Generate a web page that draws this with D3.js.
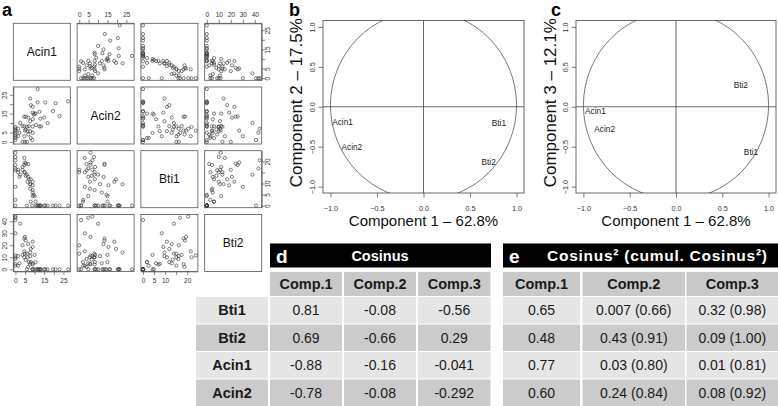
<!DOCTYPE html>
<html><head><meta charset="utf-8">
<script src="https://cdn.jsdelivr.net/npm/d3@7"></script>
<style>
body{margin:0;background:#fff;}
svg{display:block;font-family:"Liberation Sans",Arial,Helvetica,sans-serif;}
</style>
</head><body>
<svg id="fig" width="778" height="406"></svg>
<script>
// ---------------- DATA ----------------
const varNames = ["Acin1", "Acin2", "Bti1", "Bti2"];
const acin1 = [11.6,27.5,11.6,15.6,20.9,19.6,23,15,13,12.5,13.3,0,0,0,0,0,0,0,0,7.7,8,9,9,10,9.5,10.5,12.5,4.6,5.4,6.7,7.7,9,2.5,3.7,4.6,6,7,9,1.4,2.1,1.4,5.4,6.3,7.7,9,4.6,6.7,3.7,4.9,6,8,10.7,0,16.8,8.8,5];
const acin2 = [28,21.5,21,20.9,20.5,16.4,13.6,12.9,12.3,8.2,8.2,7.9,7,6,4.8,3.9,3,2.1,1,23,19.5,18.6,15.5,15,14.5,15,16,13.4,13.4,12.9,11,12,10,8.4,8.2,8,8.3,8.2,7,4.8,3,6.6,5.7,5.7,4.8,3,3.9,0,0,0,2,9,6,10,1,6];
const bti1  = [0,0,0,0,0,0,0,0,0,0,0,22,20.5,18.4,16.8,16,8.5,2.6,0,9.7,11.9,10.8,9.2,4.3,4.9,1.8,0,18.4,19,13,9.7,5.9,14,17.5,15.1,14,11.9,7,16.2,13,15.1,13.5,10.8,7.6,4.3,21.6,18.8,16.2,15.1,0,1.8,0,23.9,0,0,19.5];
const bti2  = [0,0,0,0,0,0,0,0,0,0,0,10,44,4.3,43,8.6,30,2.9,41,14,17,23,18.6,12,0,6,0,25.7,24,21,11,5,38,12,10,13,6,4,11,5,3,8,10,4.5,0,15,2,20,13,0,6,0,11.5,0,0,27];

// axis ticks of panel a (tick values and the labels R printed)
const acin1Ticks = [0,5,10,15,20,25];
const acin1Labels = ["0","5","","15","","25"];
const acin2Ticks = [0,5,10,15,20,25];
const acin2Labels = ["0","5","","15","","25"];
const bti1Ticks = [0,5,10,15,20];
const bti1Labels = ["0","5","10","","20"];
const bti2Ticks = [0,10,20,30,40];
const bti2Labels = ["0","10","20","30","40"];

const circleVars = ["Acin1", "Acin2", "Bti1", "Bti2"];
const comp1Coord = [-0.87, -0.77, 0.81, 0.70];
const comp2Coord = [-0.19, -0.50, -0.21, -0.69];
const comp3Coord = [-0.06, -0.28, -0.57, 0.27];
const circleTicks = [-1.0, -0.5, 0.0, 0.5, 1.0];
const comp1Title = "Component 1 \u2013 62.8%";
const comp2Title = "Component 2 \u2013 17.5%";
const comp3Title = "Component 3 \u2013 12.1%";

// tables d and e
const tableRows = ["Bti1", "Bti2", "Acin1", "Acin2"];
const tableCols = ["Comp.1", "Comp.2", "Comp.3"];
const cosComp1 = ["0.81", "0.69", "-0.88", "-0.78"];
const cosComp2 = ["-0.08", "-0.66", "-0.16", "-0.08"];
const cosComp3 = ["-0.56", "0.29", "-0.041", "-0.292"];
const cos2Comp1 = ["0.65", "0.48", "0.77", "0.60"];
const cos2Comp2 = ["0.007 (0.66)", "0.43 (0.91)", "0.03 (0.80)", "0.24 (0.84)"];
const cos2Comp3 = ["0.32 (0.98)", "0.09 (1.00)", "0.01 (0.81)", "0.08 (0.92)"];
const tableDTitle = "Cosinus";
const tableETitle = "Cosinus\u00B2 (cumul. Cosinus\u00B2)";

// ---------------- DRAW ----------------
const svg = d3.select("#fig");
const INK = "#333";

// ===== Panel a: scatter-plot matrix =====
(function () {
  const vars = [acin1, acin2, bti1, bti2];
  const ticks = [acin1Ticks, acin2Ticks, bti1Ticks, bti2Ticks];
  const labels = [acin1Labels, acin2Labels, bti1Labels, bti2Labels];
  const left = 13.3, top = 23.3, size = 57, stepX = 63.8, stepY = 63.7;
  const n = vars.length;
  const doms = vars.map(v => {
    const e = d3.extent(v); const p = (e[1] - e[0]) * 0.04;
    return [e[0] - p, e[1] + p];
  });
  const xs = doms.map((d, j) => d3.scaleLinear().domain(d).range([left + j * stepX, left + j * stepX + size]));
  const ys = doms.map((d, i) => d3.scaleLinear().domain(d).range([top + i * stepY + size, top + i * stepY]));
  const g = svg.append("g");
  g.append("text").attr("x", 2).attr("y", 15.5).attr("font-size", 18).attr("font-weight", "bold").attr("fill", "#000").text("a");

  for (let i = 0; i < n; i++) {
    for (let j = 0; j < n; j++) {
      const x0 = left + j * stepX, y0 = top + i * stepY;
      g.append("rect").attr("x", x0).attr("y", y0).attr("width", size).attr("height", size)
        .attr("fill", "none").attr("stroke", "#555").attr("stroke-width", 0.8);
      if (i === j) {
        g.append("text").attr("x", x0 + size / 2).attr("y", y0 + size / 2).attr("dy", "0.35em")
          .attr("text-anchor", "middle").attr("font-size", 12).attr("fill", "#111").text(varNames[i]);
      } else {
        const xv = vars[j], yv = vars[i];
        g.append("g").selectAll("circle").data(d3.range(xv.length)).join("circle")
          .attr("cx", k => xs[j](xv[k])).attr("cy", k => ys[i](yv[k])).attr("r", 1.6)
          .attr("fill", "none").attr("stroke", "#3a3a3a").attr("stroke-width", 0.65);
      }
    }
  }
  function fmt(idx) { return (d, k) => labels[idx][k]; }
  function styleAxis(sel) {
    sel.selectAll("path.domain").attr("stroke", "#555").attr("stroke-width", 0.7);
    sel.selectAll(".tick line").attr("stroke", "#555").attr("stroke-width", 0.7);
    sel.selectAll("text").attr("font-size", 6.5).attr("fill", INK).attr("font-family", "Liberation Sans, Arial, sans-serif");
  }
  for (let j = 0; j < n; j++) {
    if (j % 2 === 1) {
      const ax = g.append("g").attr("transform", `translate(0,${top})`)
        .call(d3.axisTop(xs[j]).tickValues(ticks[j]).tickFormat(fmt(j)).tickSize(3.5).tickPadding(2.5).tickSizeOuter(0));
      styleAxis(ax);
    } else {
      const ax = g.append("g").attr("transform", `translate(0,${top + (n - 1) * stepY + size})`)
        .call(d3.axisBottom(xs[j]).tickValues(ticks[j]).tickFormat(fmt(j)).tickSize(3.5).tickPadding(3.5).tickSizeOuter(0));
      styleAxis(ax);
    }
  }
  for (let i = 0; i < n; i++) {
    if (i % 2 === 1) {
      const ax = g.append("g").attr("transform", `translate(${left},0)`)
        .call(d3.axisLeft(ys[i]).tickValues(ticks[i]).tickFormat(fmt(i)).tickSize(3.5).tickSizeOuter(0));
      styleAxis(ax);
      ax.selectAll("text").attr("x", 0).attr("dy", 0).attr("text-anchor", "middle")
        .attr("transform", "translate(-6.6,0) rotate(-90)");
    } else {
      const ax = g.append("g").attr("transform", `translate(${left + (n - 1) * stepX + size},0)`)
        .call(d3.axisRight(ys[i]).tickValues(ticks[i]).tickFormat(fmt(i)).tickSize(3.5).tickSizeOuter(0));
      styleAxis(ax);
      ax.selectAll("text").attr("x", 0).attr("dy", 0).attr("text-anchor", "middle")
        .attr("transform", "translate(8.2,0) rotate(-90)");
    }
  }
})();

// ===== Panels b and c: correlation circles =====
function circlePlot(opt) {
  const g = svg.append("g");
  const x = d3.scaleLinear().domain([-1.08, 1.08]).range([opt.x0, opt.x1]);
  const y = d3.scaleLinear().domain([-1.08, 1.08]).range([opt.y1, opt.y0]);
  const clipId = "clip" + opt.letter;
  g.append("clipPath").attr("id", clipId).append("rect")
    .attr("x", opt.x0).attr("y", opt.y0).attr("width", opt.x1 - opt.x0).attr("height", opt.y1 - opt.y0);
  const r = x(1) - x(0);
  g.append("ellipse").attr("clip-path", `url(#${clipId})`)
    .attr("cx", x(0)).attr("cy", y(0) - 1.5).attr("rx", r).attr("ry", r + 1.5)
    .attr("fill", "none").attr("stroke", "#555").attr("stroke-width", 0.8);
  g.append("line").attr("x1", opt.x0).attr("x2", opt.x1).attr("y1", y(0)).attr("y2", y(0)).attr("stroke", "#444").attr("stroke-width", 0.8);
  g.append("line").attr("x1", x(0)).attr("x2", x(0)).attr("y1", opt.y0).attr("y2", opt.y1).attr("stroke", "#444").attr("stroke-width", 0.8);
  g.append("rect").attr("x", opt.x0).attr("y", opt.y0).attr("width", opt.x1 - opt.x0).attr("height", opt.y1 - opt.y0)
    .attr("fill", "none").attr("stroke", "#444").attr("stroke-width", 0.8);

  const f = d3.format(".1f");
  const ax = g.append("g").attr("transform", `translate(0,${opt.y1})`)
    .call(d3.axisBottom(x).tickValues(circleTicks).tickFormat(f).tickSize(4.5).tickPadding(8).tickSizeOuter(0));
  const ay = g.append("g").attr("transform", `translate(${opt.x0},0)`)
    .call(d3.axisLeft(y).tickValues(circleTicks).tickFormat(f).tickSize(4.5).tickSizeOuter(0));
  [ax, ay].forEach(a => {
    a.selectAll("path.domain").remove();
    a.selectAll(".tick line").attr("stroke", "#444").attr("stroke-width", 0.7);
    a.selectAll("text").attr("font-size", 7.2).attr("fill", INK).attr("font-family", "Liberation Sans, Arial, sans-serif");
  });
  ay.selectAll("text").attr("x", 0).attr("dy", 0).attr("text-anchor", "middle")
    .attr("transform", "translate(-8.5,0) rotate(-90)");

  g.append("g").selectAll("text").data(circleVars).join("text")
    .attr("x", (d, k) => x(opt.xv[k])).attr("y", (d, k) => y(opt.yv[k])).attr("dy", "0.35em")
    .attr("text-anchor", "middle").attr("font-size", 8.3).attr("fill", "#222").text(d => d);

  g.append("text").attr("x", (opt.x0 + opt.x1) / 2).attr("y", 226).attr("text-anchor", "middle")
    .attr("font-size", 15).attr("fill", "#111").text(opt.xTitle);
  g.append("text").attr("transform", `translate(${opt.yTitleX},${(opt.y0 + opt.y1) / 2 - 4}) rotate(-90)`)
    .attr("text-anchor", "middle").attr("font-size", 17).attr("fill", "#111").text(opt.yTitle);
  g.append("text").attr("x", opt.letterX).attr("y", 16).attr("font-size", 18).attr("font-weight", "bold")
    .attr("fill", "#000").text(opt.letter);
}
circlePlot({ letter: "b", letterX: 289, x0: 323, x1: 524, y0: 20.5, y1: 193, xv: comp1Coord, yv: comp2Coord,
  xTitle: comp1Title, yTitle: comp2Title, yTitleX: 302 });
circlePlot({ letter: "c", letterX: 551, x0: 576, x1: 776, y0: 20.5, y1: 193, xv: comp1Coord, yv: comp3Coord,
  xTitle: comp1Title, yTitle: comp3Title, yTitleX: 556 });

// ===== Tables d and e =====
const LIGHT = "#e5e5e5", DARK = "#cbcbcb", HEAD = "#c9c9c9";
const rowY = d3.scaleBand().domain(tableRows).range([297, 406]).paddingInner(0.04);
const headY = 272, headH = 24;

function table(opt) {
  const g = svg.append("g");
  g.append("rect").attr("x", opt.x0).attr("y", 243.5).attr("width", opt.x1 - opt.x0).attr("height", 24).attr("fill", "#000");
  g.append("text").attr("x", opt.x0 + 6).attr("y", 263).attr("font-size", 19).attr("font-weight", "bold").attr("fill", "#fff").text(opt.letter);
  const t = g.append("text").attr("x", opt.titleX).attr("y", 261).attr("text-anchor", "middle").attr("font-size", opt.titleSize)
    .attr("font-weight", "bold").attr("fill", "#fff").text(opt.title);
  if (opt.titleLen) t.attr("textLength", opt.titleLen).attr("lengthAdjust", "spacing");
  const colX = opt.colX;
  tableCols.forEach((c, k) => {
    g.append("rect").attr("x", colX[k]).attr("y", headY).attr("width", opt.colW[k]).attr("height", headH).attr("fill", HEAD);
    g.append("text").attr("x", colX[k] + opt.colW[k] / 2).attr("y", headY + headH / 2).attr("dy", "0.36em")
      .attr("text-anchor", "middle").attr("font-size", 14.5).attr("font-weight", "bold").attr("fill", "#1a1a1a").text(c);
  });
  tableRows.forEach((rname, r) => {
    const fill = r % 2 === 0 ? LIGHT : DARK;
    if (opt.rowLabelX !== undefined) {
      g.append("rect").attr("x", opt.rowLabelX).attr("y", rowY(rname)).attr("width", opt.rowLabelW).attr("height", rowY.bandwidth()).attr("fill", fill);
      g.append("text").attr("x", opt.rowLabelX + opt.rowLabelW / 2).attr("y", rowY(rname) + rowY.bandwidth() / 2).attr("dy", "0.36em")
        .attr("text-anchor", "middle").attr("font-size", 14.5).attr("font-weight", "bold").attr("fill", "#1a1a1a").text(rname);
    }
    opt.values.forEach((col, k) => {
      g.append("rect").attr("x", colX[k]).attr("y", rowY(rname)).attr("width", opt.colW[k]).attr("height", rowY.bandwidth()).attr("fill", fill);
      g.append("text").attr("x", colX[k] + opt.colW[k] / 2).attr("y", rowY(rname) + rowY.bandwidth() / 2).attr("dy", "0.36em")
        .attr("text-anchor", "middle").attr("font-size", 14).attr("fill", "#1a1a1a").text(col[r]);
    });
  });
}
table({ letter: "d", title: tableDTitle, titleX: 380, titleSize: 14.5, x0: 270, x1: 491,
  colX: [270, 344, 418], colW: [72, 72, 72.5], rowLabelX: 196, rowLabelW: 72,
  values: [cosComp1, cosComp2, cosComp3] });
table({ letter: "e", title: tableETitle, titleX: 657, titleSize: 15.5, titleLen: 220, x0: 503, x1: 778,
  colX: [503, 582.5, 686.5], colW: [77, 102.5, 91.5],
  values: [cos2Comp1, cos2Comp2, cos2Comp3] });
</script>
</body></html>
